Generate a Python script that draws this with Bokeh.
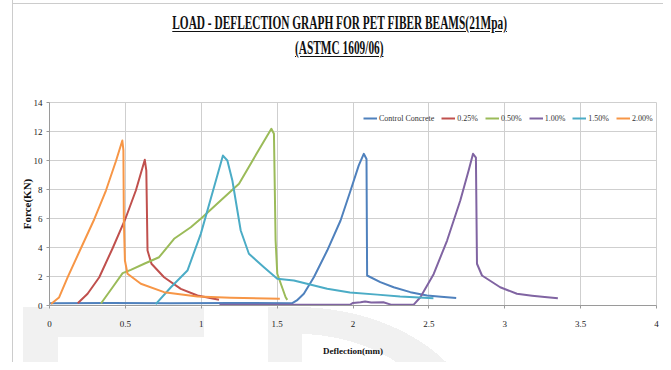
from bokeh.plotting import figure
from bokeh.models import Range1d, FixedTicker, Div
from bokeh.layouts import column
from bokeh.embed import file_html
from bokeh.resources import INLINE

# ---------------- data ----------------
title_line1 = "LOAD - DEFLECTION GRAPH FOR PET FIBER BEAMS(21Mpa)"
title_line2 = "(ASTMC 1609/06)"
x_label = "Deflection(mm)"
y_label = "Force(KN)"

x_ticks = [0, 0.5, 1, 1.5, 2, 2.5, 3, 3.5, 4]
x_tick_labels = ["0", "0.5", "1", "1.5", "2", "2.5", "3", "3.5", "4"]
y_ticks = [0, 2, 4, 6, 8, 10, 12, 14]

series_names = ["Control Concrete", "0.25%", "0.50%", "1.00%", "1.50%", "2.00%"]
series_colors = ["#4F81BD", "#C0504D", "#9BBB59", "#8064A2", "#4BACC6", "#F79646"]

control_x = [0, 0.4, 0.8, 1.2, 1.6, 1.63, 1.676, 1.742, 1.83, 1.918, 1.984, 2.038,
             2.071, 2.089, 2.093, 2.18, 2.268, 2.378, 2.488, 2.58, 2.68]
control_y = [0.15, 0.17, 0.15, 0.17, 0.16, 0.35, 0.81, 1.95, 3.79, 5.86, 7.93, 9.66,
             10.46, 10.1, 2.07, 1.61, 1.26, 0.92, 0.69, 0.6, 0.52]

p025_x = [0.186, 0.251, 0.328, 0.416, 0.499, 0.569, 0.628, 0.638, 0.646, 0.672,
          0.755, 0.865, 0.975, 1.117]
p025_y = [0.15, 0.81, 1.95, 3.95, 5.95, 7.93, 10.05, 9.3, 3.79, 2.88,
          1.95, 1.15, 0.69, 0.39]

p050_x = [0.339, 0.416, 0.482, 0.536, 0.624, 0.722, 0.821, 0.931, 1.008, 1.128,
          1.249, 1.37, 1.462, 1.479, 1.49, 1.501, 1.556, 1.567]
p050_y = [0.14, 1.26, 2.23, 2.46, 2.88, 3.33, 4.6, 5.4, 6.09, 7.24,
          8.39, 10.57, 12.19, 11.84, 4.48, 2.19, 0.57, 0.39]

p100_x = [1.12, 1.5, 1.98, 2.0, 2.05, 2.08, 2.12, 2.2, 2.25, 2.40, 2.444, 2.532,
          2.62, 2.707, 2.762, 2.791, 2.81, 2.817, 2.85, 2.97, 3.08, 3.18, 3.28, 3.35]
p100_y = [0.05, 0.06, 0.05, 0.18, 0.22, 0.28, 0.2, 0.22, 0.06, 0.06, 0.57, 2.18,
          4.48, 7.24, 9.31, 10.46, 10.2, 2.88, 2.07, 1.26, 0.81, 0.68, 0.57, 0.5]

p150_x = [0.70, 0.80, 0.909, 0.997, 1.084, 1.143, 1.172, 1.205, 1.26, 1.314,
          1.413, 1.501, 1.61, 1.83, 1.98, 2.16, 2.31, 2.53]
p150_y = [0.1, 1.26, 2.41, 4.94, 8.16, 10.34, 10.0, 8.62, 5.17, 3.57,
          2.64, 1.84, 1.72, 1.15, 0.9, 0.75, 0.62, 0.5]

p200_x = [0.01, 0.0625, 0.12, 0.207, 0.295, 0.372, 0.4375, 0.48, 0.487, 0.49,
          0.497, 0.514, 0.602, 0.755, 0.975, 1.194, 1.518]
p200_y = [0.1, 0.55, 1.95, 3.95, 5.95, 7.93, 9.95, 11.38, 10.7, 5.86,
          3.1, 2.19, 1.5, 0.92, 0.62, 0.53, 0.46]

series_x = [control_x, p025_x, p050_x, p100_x, p150_x, p200_x]
series_y = [control_y, p025_y, p050_y, p100_y, p150_y, p200_y]

# ---------------- title (HTML, underlined) ----------------
span = ("display:inline-block; transform:scaleX(0.63); transform-origin:center; "
        "text-decoration:underline; text-underline-offset:2px; white-space:nowrap;")
title_html = (
    "<div style=\"box-sizing:border-box; width:663px; padding-left:16px; padding-top:11px; "
    "text-align:center; font-family:'Liberation Serif', serif; font-weight:bold; "
    "font-size:18px; line-height:25px; color:#111111;\">"
    f"<span style=\"{span}\">{title_line1}</span><br>"
    f"<span style=\"{span}\">{title_line2}</span></div>"
)
title_div = Div(text=title_html, width=663, height=70, margin=0)

# ---------------- figure ----------------
p = figure(width=663, height=292, output_backend="svg", toolbar_location=None,
           x_range=Range1d(0, 4), y_range=Range1d(0, 14),
           min_border_left=49, min_border_right=7, min_border_top=32, min_border_bottom=57)
p.outline_line_color = "#cfcfcf"
p.background_fill_color = "white"
p.border_fill_alpha = 0

for xs, ys, name, col in zip(series_x, series_y, series_names, series_colors):
    p.line(xs, ys, line_color=col, line_width=2, legend_label=name, line_join="round")

# axes
p.xaxis.ticker = FixedTicker(ticks=x_ticks)
p.xaxis.major_label_overrides = {t: s for t, s in zip(x_ticks, x_tick_labels)}
p.yaxis.ticker = FixedTicker(ticks=y_ticks)
for ax in (p.xaxis[0], p.yaxis[0]):
    ax.axis_line_color = "#9a9a9a"
    ax.major_tick_line_color = "#9a9a9a"
    ax.major_tick_out = 3
    ax.major_tick_in = 0
    ax.minor_tick_line_color = None
    ax.major_label_text_font = "Liberation Serif"
    ax.major_label_text_font_size = "9px"
    ax.major_label_text_color = "#222222"
    ax.axis_label_text_font = "Liberation Serif"
    ax.axis_label_text_font_style = "bold"
    ax.axis_label_text_color = "#111111"
p.xaxis.major_label_standoff = 12
p.xaxis.axis_label = x_label
p.xaxis.axis_label_text_font_size = "9px"
p.xaxis.axis_label_standoff = 16
p.yaxis.major_label_standoff = 4
p.yaxis.axis_label = y_label
p.yaxis.axis_label_text_font_size = "11px"
p.yaxis.axis_label_standoff = -2

p.xgrid.grid_line_color = "#cfcfcf"
p.ygrid.grid_line_color = "#cfcfcf"

# legend
lg = p.legend[0]
lg.orientation = "horizontal"
lg.location = (314, 182)
lg.padding = 0
lg.margin = 0
lg.spacing = 7
lg.glyph_width = 14
lg.glyph_height = 10
lg.label_height = 10
lg.label_standoff = 2
lg.label_text_font = "Liberation Serif"
lg.label_text_font_size = "8px"
lg.label_text_color = "#333333"
lg.background_fill_alpha = 0
lg.border_line_color = None

# page decoration: outer chart border and faint watermark behind the margins
wm = "#f1f1f1"
layers = [
    ("linear-gradient(#cccccc,#cccccc)", "12px 0px", "1px 370px"),
    ("linear-gradient(#cccccc,#cccccc)", "12px 3px", "660px 1px"),
    (f"linear-gradient({wm},{wm})", "23px 307px", "181px 30px"),
    (f"linear-gradient({wm},{wm})", "23px 337px", "35px 40px"),
    (f"linear-gradient({wm},{wm})", "268px 307px", "34px 70px"),
    (f"radial-gradient(187px 134px at -7px 134px, transparent 80%, {wm} 80%, {wm} 100%, transparent 100%)",
     "302px 307px", "180px 70px"),
]
page_styles = {
    "background-image": ", ".join(l[0] for l in layers),
    "background-position": ", ".join(l[1] for l in layers),
    "background-size": ", ".join(l[2] for l in layers),
    "background-repeat": "no-repeat",
}

layout = column(title_div, p, spacing=0, styles=page_styles)

open("out.html", "w").write(file_html(layout, INLINE))
